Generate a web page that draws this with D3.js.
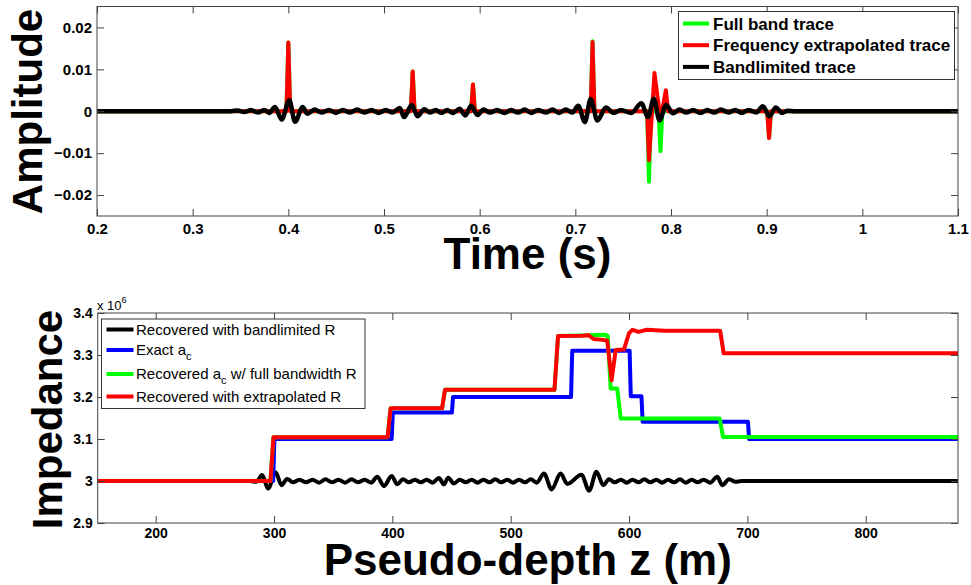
<!DOCTYPE html>
<html>
<head>
<meta charset="utf-8">
<script src="https://cdnjs.cloudflare.com/ajax/libs/d3/7.8.5/d3.min.js"></script>
<style>
body { margin: 0; background: #fff; }
text { font-family: "Liberation Sans", Arial, sans-serif; }
</style>
</head>
<body>
<script>
// ---- top panel data (time in s, amplitude) ----
var timeTicks = [0.2, 0.3, 0.4, 0.5, 0.6, 0.7, 0.8, 0.9, 1, 1.1];
var ampTicks = [-0.02, -0.01, 0, 0.01, 0.02];

var fullBandT = [0.2, 0.398, 0.4, 0.402, 0.528, 0.53, 0.532, 0.591, 0.593, 0.595, 0.716, 0.718, 0.72,
  0.775, 0.777, 0.779, 0.787, 0.789, 0.791, 0.9005, 0.9025, 0.9045, 1.1];
var fullBandV = [0, 0, 0.0164, 0, 0, 0.0095, 0, 0, 0.0064, 0, 0, 0.0167, 0,
  0, -0.0168, 0, 0, -0.0095, 0, 0, -0.0063, 0, 0];

var extrapT = [0.2, 0.398, 0.4, 0.402, 0.528, 0.53, 0.532, 0.591, 0.593, 0.595, 0.716, 0.718, 0.72,
  0.775, 0.777, 0.7827, 0.789, 0.7946, 0.797, 0.9005, 0.9025, 0.9045, 1.1];
var extrapV = [0, 0, 0.0164, 0, 0, 0.0095, 0, 0, 0.0064, 0, 0, 0.0165, 0,
  0, -0.0117, 0.0091, -0.002, 0.005, 0, 0, -0.0064, 0, 0];

var bandT = [0.2, 0.3, 0.34, 0.347, 0.354, 0.361, 0.368, 0.375, 0.380,
  0.386, 0.393, 0.401, 0.407, 0.415, 0.420,
  0.4274, 0.4348, 0.4423, 0.4497, 0.4571, 0.4645, 0.472, 0.4794, 0.4868, 0.4942, 0.5017, 0.5091,
  0.5165, 0.521, 0.529, 0.535,
  0.542, 0.548, 0.554, 0.560, 0.566, 0.572,
  0.579, 0.585, 0.591, 0.598,
  0.604, 0.611, 0.618, 0.626, 0.633, 0.640, 0.647, 0.654, 0.661, 0.669, 0.676, 0.683, 0.690, 0.697,
  0.703, 0.710, 0.716, 0.723, 0.732, 0.740, 0.7475, 0.7587,
  0.769, 0.776, 0.782, 0.788, 0.795, 0.802,
  0.809, 0.816, 0.823, 0.831, 0.838, 0.845, 0.852, 0.860, 0.867, 0.874, 0.881, 0.889,
  0.896, 0.903, 0.9095, 0.916, 0.922, 0.93, 1.1];
var bandV = [0, 0, 0, 0.0002, -0.0002, 0.0003, -0.0003, 0.0003, -0.0004,
  0.001, -0.002, 0.0026, -0.0025, 0.001, -0.0006,
  0.0004, -0.0003, 0.0003, -0.0004, 0.0003, -0.0003, 0.0004, -0.0003, 0.0003, -0.0004, 0.0003, -0.0003,
  0.0008, -0.0014, 0.0015, -0.0012,
  0.0005, -0.0003, 0.0003, -0.0004, 0.0003, -0.0004,
  0.0006, -0.001, 0.0013, -0.0009,
  0.0004, -0.0003, 0.0003, -0.0004, 0.0003, -0.0003, 0.0004, -0.0004, 0.0003, -0.0003, 0.0004, -0.0004, 0.0004, -0.0003,
  0.0013, -0.0026, 0.0029, -0.0022, 0.0009, -0.0004, 0.0003, -0.0004,
  0.0019, -0.0014, 0.003, -0.0022, 0.0015, -0.0005,
  0.0004, -0.0003, 0.0003, -0.0004, 0.0003, -0.0003, 0.0004, -0.0003, 0.0003, -0.0004, 0.0003, -0.0003,
  0.0012, -0.0012, 0.0009, -0.0004, 0.0001, 0, 0];

// ---- bottom panel data (depth in m, impedance x 1e6) ----
var depthTicks = [200, 300, 400, 500, 600, 700, 800];
var impTicks = [2.9, 3, 3.1, 3.2, 3.3, 3.4];

var bandZ = [151, 250, 280, 285, 290, 295, 301.3, 306.4, 311.1,
  316, 321.5, 327, 332.5, 338, 343.5, 349, 354.5, 360, 365.5, 371, 376.5, 382,
  387.2, 392.9, 399.4, 404.1,
  409, 414, 419, 424, 429, 434,
  439.3, 443.6, 447.2, 452,
  457, 462, 467, 472, 477, 482, 487, 492, 497, 502, 507, 512, 517, 522,
  528.1, 534.6, 542.2, 547.8,
  559.8, 566.3, 572.5, 578.2,
  583, 588, 593, 598, 603, 608, 613, 618, 623, 628, 633, 638, 643, 648, 653, 658, 663, 668.5,
  674.6, 678.8, 684.5, 690, 695, 878];
var bandImp = [3.0, 3.0, 3.0, 2.998, 3.014, 2.982, 3.021, 2.99, 3.005,
  2.997, 3.003, 2.997, 3.003, 2.996, 3.004, 2.997, 3.003, 2.996, 3.004, 2.997, 3.003, 2.996,
  3.010, 2.988, 3.012, 2.992,
  3.004, 2.997, 3.003, 2.997, 3.003, 2.996,
  3.007, 2.992, 3.008, 2.994,
  3.003, 2.997, 3.003, 2.996, 3.003, 2.997, 3.004, 2.997, 3.003, 2.996, 3.003, 2.997, 3.004, 2.996,
  3.018, 2.98, 3.018, 2.993,
  3.015, 2.977, 3.022, 2.99,
  3.004, 2.997, 3.003, 2.996, 3.003, 2.997, 3.004, 2.997, 3.003, 2.996, 3.003, 2.997, 3.004, 2.996, 3.003, 2.997, 3.003, 2.996,
  3.01, 2.99, 3.004, 2.998, 3.0, 3.0];

var exactZ = [151, 299.3, 300.3, 399.4, 400.4, 450.3, 451.3, 551, 552, 600.5, 601.5, 610.5, 611.5, 700.5, 701.5, 878];
var exactImp = [3.0, 3.0, 3.1, 3.1, 3.163, 3.163, 3.2, 3.2, 3.31, 3.31, 3.202, 3.202, 3.141, 3.141, 3.1, 3.1];

var fullZ = [151, 297, 299.5, 396, 398.5, 442, 444.5, 537, 540, 566, 580, 582, 584.5, 590, 593, 676.6, 679.4, 878];
var fullImp = [3.0, 3.0, 3.104, 3.104, 3.173, 3.173, 3.217, 3.217, 3.345, 3.347, 3.348, 3.345, 3.22, 3.22, 3.149, 3.149, 3.105, 3.105];

var extrapZ = [151, 297, 299.5, 396, 398.5, 442, 444.5, 537, 540, 560, 566, 570, 578, 581.6, 585.3, 588.7, 595.7,
  600, 603, 608, 615, 630, 677, 680, 878];
var extrapImp = [3.0, 3.0, 3.104, 3.104, 3.173, 3.173, 3.217, 3.217, 3.345, 3.346, 3.347, 3.338, 3.336, 3.334, 3.24, 3.312, 3.313,
  3.352, 3.36, 3.355, 3.36, 3.358, 3.358, 3.304, 3.304];

var FONT = '"Liberation Sans", Arial, sans-serif';

var svg = d3.select("body").append("svg")
  .attr("width", 971).attr("height", 585)
  .style("background", "#fff");

function drawLine(clip, x, y, xs, ys, color, w, curve) {
  var pts = d3.zip(xs, ys);
  svg.append("path")
    .datum(pts)
    .attr("clip-path", "url(#" + clip + ")")
    .attr("fill", "none")
    .attr("stroke", color)
    .attr("stroke-width", w)
    .attr("stroke-linejoin", "round")
    .attr("d", d3.line().x(d => x(d[0])).y(d => y(d[1])).curve(curve || d3.curveLinear));
}

function drawBox(x, y, xTicks, yTicks, xFmt, yFmt, fs, xPad) {
  var x0 = x.range()[0], x1 = x.range()[1], y0 = y.range()[0], y1 = y.range()[1];
  var g = svg.append("g");
  g.append("g").attr("transform", "translate(0," + y0 + ")")
    .call(d3.axisBottom(x).tickValues(xTicks).tickFormat(xFmt).tickSize(-7).tickPadding(xPad));
  g.append("g").attr("transform", "translate(0," + y1 + ")")
    .call(d3.axisTop(x).tickValues(xTicks).tickFormat("").tickSize(-7));
  g.append("g").attr("transform", "translate(" + x0 + ",0)")
    .call(d3.axisLeft(y).tickValues(yTicks).tickFormat(yFmt).tickSize(-7).tickPadding(5));
  g.append("g").attr("transform", "translate(" + x1 + ",0)")
    .call(d3.axisRight(y).tickValues(yTicks).tickFormat("").tickSize(-7));
  g.selectAll(".domain").remove();
  g.selectAll(".tick line").attr("stroke", "#444");
  g.selectAll(".tick text")
    .attr("font-size", fs)
    .attr("font-weight", "bold")
    .attr("font-family", FONT)
    .attr("fill", "#000");
  g.append("rect")
    .attr("x", x0).attr("y", y1)
    .attr("width", x1 - x0).attr("height", y0 - y1)
    .attr("fill", "none").attr("stroke", "#444").attr("stroke-width", 1);
}

function addClip(id, x, y) {
  svg.append("clipPath").attr("id", id).append("rect")
    .attr("x", x.range()[0]).attr("y", y.range()[1])
    .attr("width", x.range()[1] - x.range()[0])
    .attr("height", y.range()[0] - y.range()[1]);
}

// ================= top panel =================
var xT = d3.scaleLinear().domain([0.2, 1.1]).range([97, 958]);
var yT = d3.scaleLinear().domain([-0.025, 0.025]).range([216, 6.5]);
addClip("clipTop", xT, yT);

drawLine("clipTop", xT, yT, fullBandT, fullBandV, "#00ff00", 4);
drawLine("clipTop", xT, yT, extrapT, extrapV, "#ff0000", 4);
drawLine("clipTop", xT, yT, bandT, bandV, "#000", 4.5, d3.curveMonotoneX);

drawBox(xT, yT, timeTicks, ampTicks, d3.format("~g"),
  d => d === 0 ? "0" : d3.format(".2f")(d), 15, 7);

// legend (top)
var legTop = svg.append("g");
legTop.append("rect")
  .attr("x", 678.5).attr("y", 11.5).attr("width", 276).attr("height", 68)
  .attr("fill", "#fff").attr("stroke", "#333");
var topItems = [["Full band trace", "#00ff00"], ["Frequency extrapolated trace", "#ff0000"], ["Bandlimited trace", "#000"]];
topItems.forEach(function(it, i) {
  var yy = 23.5 + i * 21.7;
  legTop.append("line").attr("x1", 683).attr("x2", 709).attr("y1", yy).attr("y2", yy)
    .attr("stroke", it[1]).attr("stroke-width", 4);
  legTop.append("text").attr("x", 713).attr("y", yy).attr("dy", "0.36em")
    .attr("font-size", 17).attr("font-weight", "bold").text(it[0]);
});

svg.append("text")
  .attr("transform", "translate(42,111.5) rotate(-90)")
  .attr("text-anchor", "middle")
  .attr("font-size", 42).attr("font-weight", "bold")
  .text("Amplitude");
svg.append("text")
  .attr("x", 527.5).attr("y", 269)
  .attr("text-anchor", "middle")
  .attr("font-size", 44).attr("font-weight", "bold")
  .text("Time (s)");

// ================= bottom panel =================
var xB = d3.scaleLinear().domain([151, 878]).range([97.7, 958]);
var yB = d3.scaleLinear().domain([2.9, 3.4]).range([523, 313]);
addClip("clipBot", xB, yB);

drawLine("clipBot", xB, yB, bandZ, bandImp, "#000", 4, d3.curveMonotoneX);
drawLine("clipBot", xB, yB, exactZ, exactImp, "#0000ff", 4);
drawLine("clipBot", xB, yB, fullZ, fullImp, "#00ff00", 4);
drawLine("clipBot", xB, yB, extrapZ, extrapImp, "#ff0000", 4);

drawBox(xB, yB, depthTicks, impTicks, d3.format("~g"), d3.format("~g"), 14, 5);

// exponent label
var expo = svg.append("text").attr("x", 97).attr("y", 310).attr("font-size", 13);
expo.append("tspan").text("x 10");
expo.append("tspan").attr("font-size", 9).attr("dy", -7).text("6");

// legend (bottom)
var legBot = svg.append("g");
legBot.append("rect")
  .attr("x", 101.5).attr("y", 319).attr("width", 263.5).attr("height", 89.5)
  .attr("fill", "#fff").attr("stroke", "#333");
var botItems = [
  [["Recovered with bandlimited R"], "#000", 329.5],
  [["Exact a", "c", ""], "#0000ff", 350],
  [["Recovered a", "c", " w/ full bandwidth R"], "#00ff00", 374],
  [["Recovered with extrapolated R"], "#ff0000", 396.5]
];
botItems.forEach(function(it) {
  var yy = it[2];
  legBot.append("line").attr("x1", 106.5).attr("x2", 133.5).attr("y1", yy).attr("y2", yy)
    .attr("stroke", it[1]).attr("stroke-width", 4);
  var t = legBot.append("text").attr("x", 136).attr("y", yy).attr("dy", "0.36em").attr("font-size", 15);
  t.append("tspan").text(it[0][0]);
  if (it[0].length > 1) {
    t.append("tspan").attr("font-size", 11).attr("dy", 5).text(it[0][1]);
    t.append("tspan").attr("dy", -5).text(it[0][2]);
  }
});

svg.append("text")
  .attr("transform", "translate(62,419.5) rotate(-90)")
  .attr("text-anchor", "middle")
  .attr("font-size", 42).attr("font-weight", "bold")
  .text("Impedance");
svg.append("text")
  .attr("x", 527.8).attr("y", 575)
  .attr("text-anchor", "middle")
  .attr("font-size", 44).attr("font-weight", "bold")
  .text("Pseudo-depth z (m)");
</script>
</body>
</html>
